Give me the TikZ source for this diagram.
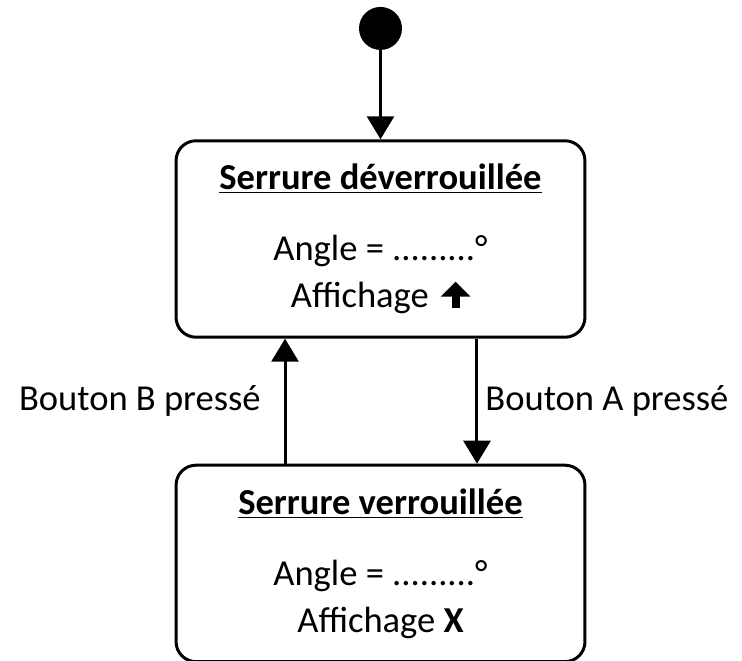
\documentclass[tikz,border=0pt]{standalone}
\usepackage{fontspec}
\setmainfont{Carlito}
\usetikzlibrary{arrows.meta,positioning}
\newcommand{\flechehaut}{\tikz[baseline=0pt]\draw[line width=4.6pt,-{Triangle[width=0.58cm,length=0.3cm]}] (0cm,0cm) -- (0cm,0.52cm);}

\begin{document}
\begin{tikzpicture}[
    x=0.02cm, y=-0.02cm,
    every node/.style={font=\fontsize{20.8}{26.7}\selectfont},
    etat/.style={rectangle, draw, line width=1.7pt, rounded corners=0.4cm, align=center, minimum width=8.18cm, minimum height=3.93cm, inner sep=0pt},
    debut/.style={circle, fill=black, minimum size=0.86cm, inner sep=0pt},
    trans/.style={-{Triangle[width=0.54cm,length=0.46cm]}, line width=1.7pt}
]
    \useasboundingbox (0,0) rectangle (742,661);

    \node (deverrou) [etat] at (380.5,239) {\underline{\textbf{Serrure déverrouillée}}\\[13.7pt]Angle = .........°\\Affichage\hspace{7pt}\flechehaut};
    \node (verrou) [etat, below=2.5cm of deverrou] {\underline{\textbf{Serrure verrouillée}}\\[13.7pt]Angle = .........°\\Affichage \textbf{X}};
    \node (init) [debut, above=1.78cm of deverrou] {};

    \draw[trans] (init) -- (deverrou);
    \draw[trans] ([xshift=-1.91cm]verrou.north) -- node[midway, left=0.46cm, inner sep=0pt] {Bouton B pressé} ([xshift=-1.91cm]deverrou.south);
    \draw[trans] ([xshift=1.93cm]deverrou.south) -- node[midway, right=0.14cm, inner sep=0pt] {Bouton A pressé} ([xshift=1.93cm]verrou.north);

\end{tikzpicture}
\end{document}
